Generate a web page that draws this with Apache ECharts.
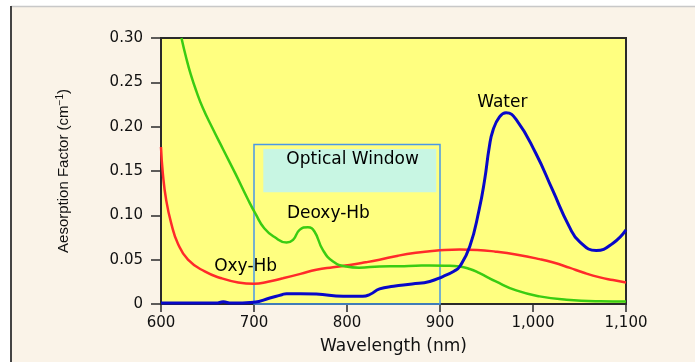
<!DOCTYPE html>
<html><head><meta charset="utf-8">
<script src="https://cdn.jsdelivr.net/npm/echarts@6/dist/echarts.min.js"></script>
<style>html,body{margin:0;padding:0;background:#fff}#c{width:695px;height:362px}</style>
</head><body><div id="c"></div>
<script>
// Oxy-Hb (red)
const oxyWl  = [600,602,605.6,611,618,629,647,665,683,700,715,731,750,767,785,803,820,835,855,874,889,905,921,940,960,983,1007,1021,1039,1054,1072,1086,1100];
const oxyVal = [0.177,0.147,0.117,0.091,0.0686,0.050,0.0367,0.029,0.0243,0.0228,0.025,0.029,0.034,0.0386,0.0415,0.044,0.047,0.050,0.0545,0.0578,0.0595,0.061,0.0615,0.061,0.059,0.0555,0.0506,0.047,0.041,0.0355,0.030,0.027,0.0243];
// Deoxy-Hb (green)
const deoxyWl  = [622,627,632,638,645,655,667,680,693,702,711,722,735,742,749,758,765,774,785,799,813,835,856,874,889,905,921,932,942,960,982,1007,1036,1072,1100];
const deoxyVal = [0.300,0.278,0.259,0.240,0.221,0.199,0.174,0.147,0.119,0.101,0.0855,0.0755,0.0693,0.0723,0.0836,0.0866,0.0817,0.061,0.048,0.0423,0.041,0.0423,0.0426,0.0431,0.0435,0.0432,0.0423,0.0395,0.035,0.0254,0.0153,0.0086,0.0048,0.003,0.0027];
// Water (blue)
const waterWl  = [600,640,660,664,667,670,675,700,717,730,735,750,767,796,817,825,835,850,870,889,903,915,921,932,942,948,953,957,964,971,982,1003,1021,1039,1050,1068,1086,1100];
const waterVal = [0.001,0.001,0.001,0.002,0.0025,0.002,0.001,0.002,0.0067,0.0105,0.0116,0.0116,0.0112,0.0086,0.0086,0.011,0.017,0.020,0.0225,0.0254,0.031,0.037,0.042,0.0648,0.106,0.140,0.177,0.196,0.211,0.2156,0.208,0.170,0.1286,0.0873,0.0704,0.0603,0.0686,0.0836];
// axis ticks
const xTicks = [600,700,800,900,1000,1100];
const yTicks = [0,0.05,0.10,0.15,0.20,0.25,0.30];
// optical window (nm range and absorption top)
const windowRange = [700,900,0.18];
const windowLabelBox = [710,896,0.126,0.1747];
// annotation texts
const labelTexts = ['Water','Deoxy-Hb','Oxy-Hb','Optical Window'];
const labelWl = [967,780,691,806];
const labelVal = [0.2276,0.1015,0.0423,0.1624];

const pairs = (a,b)=>a.map((v,i)=>[v,b[i]]);
const chart = echarts.init(document.getElementById('c'));
const FONT = 'DejaVu Sans';
chart.setOption({
  animation:false,
  backgroundColor:'#fff',
  graphic:[
    {type:'rect',shape:{x:11,y:6,width:684,height:356},style:{fill:'#faf3e8'},z:-10},
    {type:'line',shape:{x1:11,y1:6.5,x2:695,y2:6.5},style:{stroke:'#c8c8c8',lineWidth:1.5},z:-5},
    {type:'line',shape:{x1:11,y1:6,x2:11,y2:362},style:{stroke:'#444',lineWidth:2},z:-5}
  ],
  grid:{left:161,right:69,top:38,bottom:58,show:true,backgroundColor:'#ffff80',borderColor:'#2a2a2a',borderWidth:2},
  xAxis:{type:'value',min:xTicks[0],max:xTicks[xTicks.length-1],interval:100,
    name:'Wavelength (nm)',nameLocation:'middle',nameGap:34,
    nameTextStyle:{fontFamily:FONT,fontSize:17,color:'#111'},
    axisLine:{show:true,lineStyle:{color:'#2a2a2a',width:2}},
    axisTick:{show:true,inside:false,length:8,lineStyle:{color:'#2a2a2a',width:1.5}},
    axisLabel:{fontFamily:FONT,fontSize:15,color:'#111',margin:12,
      formatter:v=>v.toLocaleString('en-US')},
    splitLine:{show:false}},
  yAxis:{type:'value',min:yTicks[0],max:yTicks[yTicks.length-1],interval:0.05,
    name:'{a|Aesorption Factor (cm}{s|−1}{a|)}',nameLocation:'middle',nameGap:88,nameRotate:90,
    nameTextStyle:{rich:{a:{fontFamily:'Liberation Sans',fontSize:15,color:'#111'},
      s:{fontFamily:'Liberation Sans',fontSize:10,color:'#111',padding:[0,0,8,0]}}},
    axisLine:{show:true,lineStyle:{color:'#2a2a2a',width:2}},
    axisTick:{show:true,inside:false,length:10,lineStyle:{color:'#2a2a2a',width:1.5}},
    axisLabel:{fontFamily:FONT,fontSize:15,color:'#111',margin:18,
      formatter:v=>v===0?'0':v.toFixed(2)},
    splitLine:{show:false}},
  series:[
    {type:'line',name:'Optical Window',data:[],silent:true,
      markArea:{silent:true,data:[
        [{coord:[windowRange[0],0],itemStyle:{color:'rgba(0,0,0,0)',borderColor:'#4a98e6',borderWidth:1.5}},{coord:[windowRange[1],windowRange[2]]}],
        [{coord:[windowLabelBox[0],windowLabelBox[2]],itemStyle:{color:'#c8f6e3'}},{coord:[windowLabelBox[1],windowLabelBox[3]]}]
      ]}},
    {type:'line',name:'Oxy-Hb',data:pairs(oxyWl,oxyVal),smooth:0.5,showSymbol:false,clip:true,
      lineStyle:{color:'#ff2a2a',width:2.5},z:3},
    {type:'line',name:'Deoxy-Hb',data:pairs(deoxyWl,deoxyVal),smooth:0.5,showSymbol:false,clip:true,
      lineStyle:{color:'#3acc12',width:2.5},z:4},
    {type:'line',name:'Water',data:pairs(waterWl,waterVal),smooth:0.5,showSymbol:false,clip:true,
      lineStyle:{color:'#0808c8',width:3},z:5},
    {type:'scatter',name:'labels',symbolSize:0,silent:true,z:6,itemStyle:{opacity:1},
      data:labelWl.map((w,i)=>({value:[w,labelVal[i]],name:labelTexts[i]})),
      label:{show:true,position:'inside',formatter:p=>p.name,fontFamily:FONT,fontSize:17,color:'#000',opacity:1}}
  ]
});
</script></body></html>
